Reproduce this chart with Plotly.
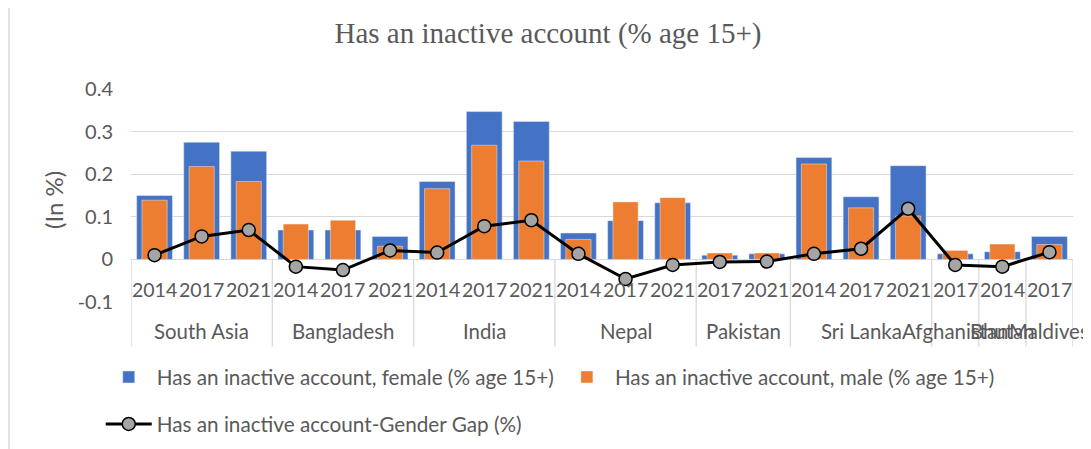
import plotly.graph_objects as go

# ---- data ----
groups = ["South Asia", "Bangladesh", "India", "Nepal", "Pakistan",
          "Sri Lanka", "Afghanistan", "Bhutan", "Maldives"]
group_years = [["2014", "2017", "2021"], ["2014", "2017", "2021"],
               ["2014", "2017", "2021"], ["2014", "2017", "2021"],
               ["2017", "2021"], ["2014", "2017", "2021"],
               ["2017"], ["2014"], ["2017"]]
female = [0.150, 0.275, 0.254, 0.069, 0.069, 0.054, 0.183, 0.347, 0.324,
          0.062, 0.091, 0.133, 0.010, 0.013, 0.239, 0.147, 0.220,
          0.013, 0.018, 0.054]
male = [0.139, 0.218, 0.183, 0.083, 0.092, 0.031, 0.166, 0.268, 0.231,
        0.047, 0.135, 0.145, 0.015, 0.015, 0.224, 0.121, 0.102,
        0.021, 0.036, 0.035]
gap = [0.010, 0.054, 0.069, -0.017, -0.025, 0.021, 0.016, 0.078, 0.092,
       0.013, -0.046, -0.013, -0.006, -0.005, 0.013, 0.025, 0.119,
       -0.013, -0.017, 0.017]
y_ticks = [-0.1, 0, 0.1, 0.2, 0.3, 0.4]
y_ticktext = ["-0.1", "0", "0.1", "0.2", "0.3", "0.4"]

title = "Has an inactive account (% age 15+)"
name_f = "Has an inactive account, female (% age 15+)"
name_m = "Has an inactive account, male (% age 15+)"
name_g = "Has an inactive account-Gender Gap (%)"

FONT = "Lato"
GREY_TXT = "#595959"
GRID = "#D9D9D9"
FS = 19.5
FS_GROUP = 20.4
YMIN, YMAX = -0.1, 0.4


def to_paper(v):
    return (v - YMIN) / (YMAX - YMIN)


years_flat = [y for ys in group_years for y in ys]
xs = list(range(len(years_flat)))

fig = go.Figure()
fig.add_trace(go.Bar(x=xs, y=female, name=name_f, marker_color="#4472C4",
                     width=0.76, legend="legend"))
fig.add_trace(go.Bar(x=xs, y=male, name=name_m, marker_color="#ED7D31",
                     width=0.535, legend="legend"))
fig.add_trace(go.Scatter(x=xs, y=gap, name=name_g, mode="lines+markers",
                         line=dict(color="black", width=3),
                         marker=dict(size=13, color="#A5A5A5",
                                     line=dict(color="black", width=1.5)),
                         legend="legend2"))

annotations = []
shapes = []
# year labels (first row of the category table)
for i, yl in enumerate(years_flat):
    annotations.append(dict(x=i, y=to_paper(-0.07), xref="x", yref="paper",
                            text=yl, showarrow=False, xanchor="center",
                            yanchor="middle",
                            font=dict(family=FONT, size=FS, color=GREY_TXT)))
# group labels and dividers
start = 0
bounds = [-0.5]
for g, ys in zip(groups, group_years):
    n = len(ys)
    center = start + (n - 1) / 2
    annotations.append(dict(x=center, y=to_paper(-0.168), xref="x",
                            yref="paper", text=g, showarrow=False,
                            xanchor="center", yanchor="middle",
                            font=dict(family=FONT, size=FS_GROUP,
                                      color=GREY_TXT)))
    start += n
    bounds.append(start - 0.5)
for b in bounds:
    shapes.append(dict(type="line", xref="x", yref="paper", x0=b, x1=b,
                       y0=to_paper(0), y1=to_paper(-0.205),
                       line=dict(color=GRID, width=1.3), layer="below"))
# chart-area left border
shapes.append(dict(type="line", xref="paper", yref="paper",
                   x0=-122 / 942, x1=-122 / 942, y0=-1.0, y1=1.5,
                   line=dict(color=GRID, width=1.5)))
# y-axis title
annotations.append(dict(x=0, y=0.479, xref="paper", yref="paper", xshift=-77,
                        text="(In %)", textangle=-90, showarrow=False,
                        xanchor="center", yanchor="middle",
                        font=dict(family=FONT, size=24, color=GREY_TXT)))

fig.update_layout(
    width=1091, height=449,
    margin=dict(l=123, r=26, t=81, b=155),
    paper_bgcolor="white", plot_bgcolor="white",
    barmode="overlay",
    title=dict(text=title, x=540 / 1091, xref="container", xanchor="center",
               y=1 - 25 / 449, yref="container", yanchor="middle",
               font=dict(family="Liberation Serif", size=29, color=GREY_TXT)),
    xaxis=dict(range=[-0.5, 19.5], showticklabels=False, showgrid=False,
               zeroline=False, showline=False, fixedrange=True),
    yaxis=dict(range=[YMIN, YMAX], tickvals=y_ticks, ticktext=y_ticktext,
               showgrid=True, gridcolor=GRID, gridwidth=1.3,
               zeroline=True, zerolinecolor=GRID, zerolinewidth=1.3,
               showline=False, ticks="", ticklabelstandoff=17,
               tickfont=dict(family=FONT, size=20, color=GREY_TXT)),
    legend=dict(orientation="h", xref="container", yref="container",
                x=0.085, y=1 - 369 / 449, xanchor="left", yanchor="middle",
                font=dict(family=FONT, size=20.7, color=GREY_TXT),
                itemwidth=46, traceorder="normal", bgcolor="rgba(0,0,0,0)"),
    legend2=dict(orientation="h", xref="container", yref="container",
                 x=0.085, y=1 - 416 / 449, xanchor="left", yanchor="middle",
                 font=dict(family=FONT, size=20.7, color=GREY_TXT),
                 itemwidth=46, bgcolor="rgba(0,0,0,0)"),
    annotations=annotations,
    shapes=shapes,
    showlegend=True,
)

fig.write_html("out.html")
